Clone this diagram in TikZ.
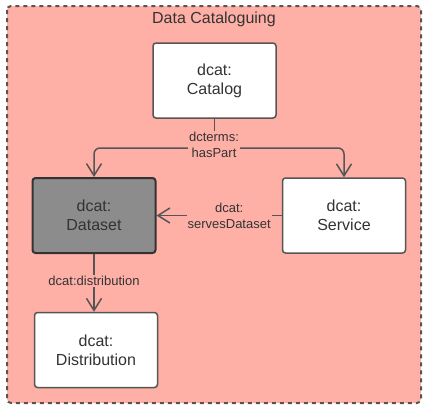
\documentclass[tikz,border=0pt]{standalone}
\usepackage{fontspec}
\setmainfont{Liberation Sans}
\usetikzlibrary{arrows.meta}
\definecolor{pinkbg}{HTML}{FFB0A6}
\definecolor{edgegray}{HTML}{555555}
\definecolor{txtgray}{HTML}{333333}
\definecolor{dsfill}{HTML}{8C8C8C}
\tikzset{
  box/.style={draw=edgegray, line width=1.5pt, fill=white, rounded corners=3pt,
    minimum width=123pt, minimum height=75pt, align=center, text=txtgray,
    font=\fontsize{16}{19}\selectfont, inner sep=0pt},
  dsbox/.style={box, draw=txtgray, line width=2pt, fill=dsfill},
  lbl/.style={fill=pinkbg, text=txtgray, align=center, inner sep=1pt,
    font=\fontsize{13}{16}\selectfont},
  conn/.style={draw=edgegray, line width=1.5pt},
  arr/.style={conn, -{Straight Barb[length=12pt,width=15pt,line width=1.5pt]}},
}
\begin{document}
\begin{tikzpicture}[x=1pt,y=-1pt]
\useasboundingbox (0,0) rectangle (429,413);
\path[fill=pinkbg, draw=edgegray, line width=2pt, dash pattern=on 4pt off 4pt, rounded corners=4pt]
  (7,6) rectangle (421,403);
\node[text=txtgray, font=\fontsize{16}{19}\selectfont] (title) at (214,19) {Data Cataloguing};
\node[box] (cat) at (214.5,80.5) {dcat:\\Catalog};
\node[dsbox] (ds) at (94,215.5) {dcat:\\Dataset};
\node[box] (sv) at (344,215.5) {dcat:\\Service};
\node[box] (dist) at (96,350) {dcat:\\Distribution};
\coordinate (j) at (214.5,148);
\draw[conn] (cat.south) -- (j);
\draw[arr, rounded corners=6pt] (j) -| (ds.north);
\draw[arr, rounded corners=6pt] (j) -| (sv.north);
\node[lbl] (l1) at (214,145) {dcterms:\\hasPart};
\draw[arr] (sv.west) -- (ds.east) node[lbl, pos=0.42] (l2) {dcat:\\servesDataset};
\draw[arr] (ds.south) -- (ds.south |- dist.north) node[lbl, pos=0.47] (l3) {dcat:distribution};
\end{tikzpicture}
\end{document}
